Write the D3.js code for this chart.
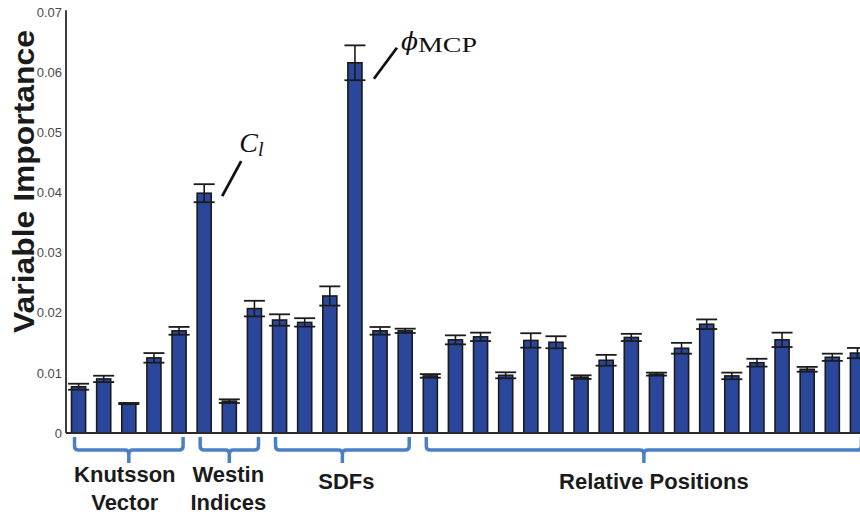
<!DOCTYPE html>
<html>
<head>
<meta charset="utf-8">
<script src="https://cdn.jsdelivr.net/npm/d3@7"></script>
<style>
  html, body { margin: 0; padding: 0; background: #fff; }
  svg { display: block; }
</style>
</head>
<body>
<svg id="chart" width="860" height="514"></svg>
<script>
// Feature groups and how many variables each contributes
const groupNames = [["Knutsson", "Vector"], ["Westin", "Indices"], ["SDFs"], ["Relative Positions"]];
const groupSizes = [5, 3, 6, 18];

// Variable importance (mean) per feature, in plotting order
const importance = [
  0.0077, 0.0090, 0.0049, 0.0125, 0.0170,
  0.0399, 0.0053, 0.0207,
  0.0188, 0.0184, 0.0228, 0.0616, 0.0170, 0.0170,
  0.0095, 0.0155, 0.0160, 0.0096, 0.0154, 0.0151, 0.0093, 0.0121, 0.0159,
  0.0098, 0.0141, 0.0181, 0.0095, 0.0117, 0.0155, 0.0106, 0.0126, 0.0133
];
// Half-width of the error bar for each feature
const errorHalf = [
  0.0005, 0.00053, 0.0001, 0.0008, 0.00065,
  0.0015, 0.0003, 0.0013,
  0.00095, 0.0007, 0.0016, 0.0029, 0.00064, 0.00036,
  0.0003, 0.00075, 0.0007, 0.0005, 0.0012, 0.0010, 0.0003, 0.0009, 0.0006,
  0.00025, 0.0009, 0.0008, 0.00055, 0.00065, 0.0012, 0.0004, 0.0006, 0.00085
];
const yTicks = [0, 0.01, 0.02, 0.03, 0.04, 0.05, 0.06, 0.07];
const yTickLabels = ["0", "0.01", "0.02", "0.03", "0.04", "0.05", "0.06", "0.07"];
// Highlighted features: index into importance, label parts
const callouts = [
  { index: 5, main: "C", sub: "l" },
  { index: 11, main: "\u03D5", sub: "MCP" }
];

const svg = d3.select("#chart");
const left = 66, baseY = 433, topY = 12.3;

const x = d3.scaleBand()
  .domain(d3.range(importance.length))
  .range([left, left + importance.length * 25.125])
  .paddingInner(0.44)
  .paddingOuter(0.22);

const y = d3.scaleLinear().domain([0, 0.07]).range([baseY, topY]);

const barFill = "#2b479b";
const ink = "#1b1b1b";

// Bars
svg.append("g").selectAll("rect")
  .data(importance)
  .join("rect")
  .attr("x", (d, i) => x(i))
  .attr("y", d => y(d))
  .attr("width", x.bandwidth())
  .attr("height", d => baseY - y(d))
  .attr("fill", barFill)
  .attr("stroke", ink)
  .attr("stroke-width", 1.6);

// Error bars
const eb = svg.append("g").attr("stroke", ink);
importance.forEach((v, i) => {
  const cx = x(i) + x.bandwidth() / 2;
  const y1 = y(v + errorHalf[i]), y0 = y(v - errorHalf[i]);
  const capW = 10.5;
  eb.append("line").attr("x1", cx).attr("x2", cx).attr("y1", y1).attr("y2", y0).attr("stroke-width", 1.6);
  eb.append("line").attr("x1", cx - capW).attr("x2", cx + capW).attr("y1", y1).attr("y2", y1).attr("stroke-width", 1.8);
  eb.append("line").attr("x1", cx - capW).attr("x2", cx + capW).attr("y1", y0).attr("y2", y0).attr("stroke-width", 1.8);
});

// Y axis
const yAxis = d3.axisLeft(y)
  .tickValues(yTicks)
  .tickFormat((d, i) => yTickLabels[i])
  .tickSize(0)
  .tickPadding(4);
const ya = svg.append("g").attr("transform", `translate(${left},0)`).call(yAxis);
ya.select(".domain").attr("stroke", "#2a2a2a").attr("stroke-width", 1.8).attr("d", `M0,${topY - 2}V${baseY}`);
ya.selectAll("text")
  .attr("fill", "#4a4a4a")
  .style("font-family", "'Liberation Sans Narrow', 'Arial Narrow', 'Liberation Sans', sans-serif")
  .style("font-size", "13px");

// Baseline
svg.append("line")
  .attr("x1", left).attr("x2", 860)
  .attr("y1", baseY).attr("y2", baseY)
  .attr("stroke", "#2a2a2a").attr("stroke-width", 2);

// Y axis title
svg.append("text")
  .attr("transform", `translate(34,181.5) rotate(-90)`)
  .attr("text-anchor", "middle")
  .attr("fill", ink)
  .attr("textLength", 303)
  .attr("lengthAdjust", "spacingAndGlyphs")
  .style("font-family", "'Liberation Sans', Arial, sans-serif")
  .style("font-weight", "bold")
  .style("font-size", "29px")
  .text("Variable Importance");

// Group brackets and labels
const bracketBlue = "#4a80c4";
const labelShift = [-4, -1, 4, 10];
let start = 0;
groupSizes.forEach((n, g) => {
  const x0 = x(start) + 3;
  const x1 = x(start + n - 1) + x.bandwidth() - 3;
  const xc = (x0 + x1) / 2;
  const yTop = 437, yH = 450, yTip = 463, r = 4;
  const p = d3.path();
  p.moveTo(x0, yTop);
  p.lineTo(x0, yH - r);
  p.quadraticCurveTo(x0, yH, x0 + r, yH);
  p.lineTo(xc - r, yH);
  p.quadraticCurveTo(xc, yH, xc, yH + r);
  p.lineTo(xc, yTip);
  p.moveTo(xc, yH + r);
  p.quadraticCurveTo(xc, yH, xc + r, yH);
  p.lineTo(x1 - r, yH);
  p.quadraticCurveTo(x1, yH, x1, yH - r);
  p.lineTo(x1, yTop);
  svg.append("path")
    .attr("d", p.toString())
    .attr("fill", "none")
    .attr("stroke", bracketBlue)
    .attr("stroke-width", 3.5);

  const lines = groupNames[g];
  const t = svg.append("text")
    .attr("text-anchor", "middle")
    .attr("fill", ink)
    .style("font-family", "'Liberation Sans', Arial, sans-serif")
    .style("font-weight", "bold")
    .style("font-size", "22px");
  const firstBase = lines.length === 2 ? 482 : 489;
  lines.forEach((s, k) => {
    t.append("tspan").attr("x", xc + labelShift[g]).attr("y", firstBase + k * 28).text(s);
  });
  start += n;
});

// Callouts for the two dominant features
callouts.forEach(c => {
  const cx = x(c.index) + x.bandwidth() / 2;
  const top = y(importance[c.index]);
  if (c.index === 5) {
    svg.append("line")
      .attr("x1", cx + 18).attr("y1", top + 3)
      .attr("x2", cx + 37).attr("y2", top - 32)
      .attr("stroke", "#111").attr("stroke-width", 2.8);
    const t = svg.append("text")
      .attr("x", cx + 35).attr("y", top - 41)
      .attr("fill", "#111")
      .style("font-family", "'Liberation Serif', 'DejaVu Serif', serif")
      .style("font-size", "28px")
      .style("font-style", "italic");
    t.append("tspan").text(c.main);
    t.append("tspan").attr("dy", 4).style("font-size", "20px").text(c.sub);
  } else {
    svg.append("line")
      .attr("x1", cx + 19).attr("y1", top + 16)
      .attr("x2", cx + 42).attr("y2", top - 15)
      .attr("stroke", "#111").attr("stroke-width", 2.8);
    svg.append("text")
      .attr("x", cx + 46).attr("y", top - 13)
      .attr("fill", "#111")
      .style("font-family", "'DejaVu Serif', 'Liberation Serif', serif")
      .style("font-size", "25px")
      .style("font-style", "italic")
      .text(c.main);
    svg.append("text")
      .attr("x", cx + 63).attr("y", top - 11)
      .attr("fill", "#111")
      .attr("textLength", 59)
      .attr("lengthAdjust", "spacingAndGlyphs")
      .style("font-family", "'Liberation Serif', serif")
      .style("font-size", "22px")
      .text(c.sub);
  }
});
</script>
</body>
</html>
